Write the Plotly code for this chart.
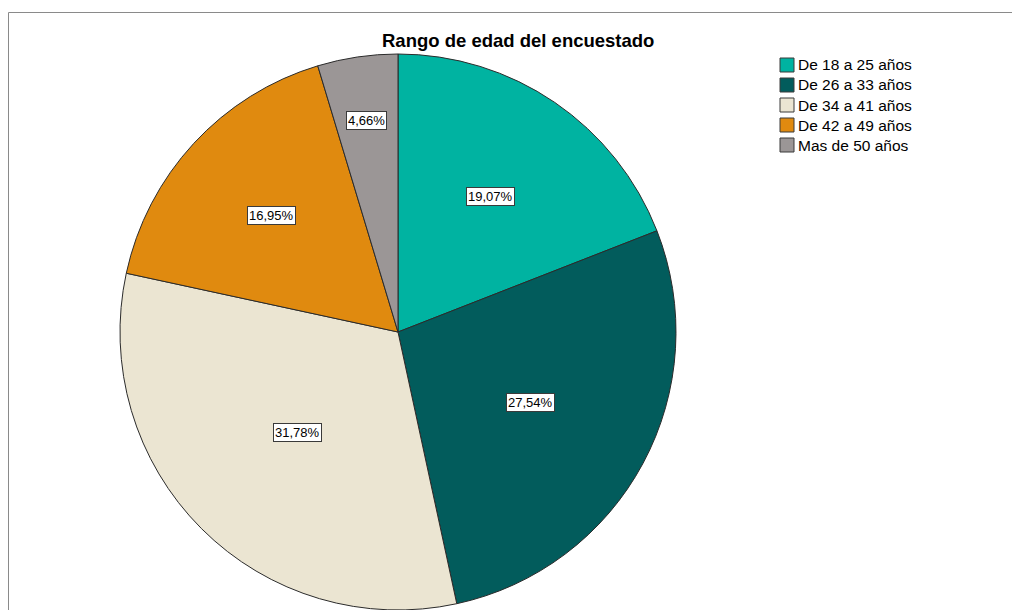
import math
import plotly.graph_objects as go

# ---- data ----
categories = ["De 18 a 25 años", "De 26 a 33 años", "De 34 a 41 años", "De 42 a 49 años", "Mas de 50 años"]
percentages = [19.07, 27.54, 31.78, 16.95, 4.66]
value_labels = ["19,07%", "27,54%", "31,78%", "16,95%", "4,66%"]
title_text = "Rango de edad del encuestado"

# ---- style ----
colors = ["#00B3A1", "#025C5C", "#EBE5D2", "#E08A0F", "#9B9696"]
W, H = 1020, 610
OFF = 8  # browser default body margin
cx_px, cy_px, r_px = 398 - OFF, 332 - OFF, 278
label_radius_frac = [0.59, 0.54, 0.51, 0.62, 0.77]
FONT = "Liberation Sans, Arial, sans-serif"


def px_x(x):
    return x / W


def px_y(y):
    return 1 - y / H


fig = go.Figure()
fig.add_trace(go.Pie(
    labels=categories,
    values=percentages,
    sort=False,
    direction="clockwise",
    rotation=0,
    marker=dict(colors=colors, line=dict(color="#2b2b2b", width=1)),
    textinfo="none",
    hoverinfo="label+percent",
    showlegend=False,
    domain=dict(x=[px_x(cx_px - r_px), px_x(cx_px + r_px)],
                y=[px_y(cy_px + r_px), px_y(cy_px - r_px)]),
))

annotations = []
shapes = []

# value labels in boxes, positioned from slice mid-angles
total = sum(percentages)
cum = 0.0
for v, lab, frac in zip(percentages, value_labels, label_radius_frac):
    mid = (cum + v / 2) / total * 2 * math.pi
    cum += v
    px = cx_px + r_px * frac * math.sin(mid)
    py = cy_px - r_px * frac * math.cos(mid)
    annotations.append(dict(
        x=px_x(px), y=px_y(py), xref="paper", yref="paper",
        xanchor="center", yanchor="middle",
        text=lab, showarrow=False,
        font=dict(family=FONT, size=13, color="#000000"),
        bgcolor="#FFFFFF", bordercolor="#3a3a3a", borderwidth=1, borderpad=1,
    ))

# title
annotations.append(dict(
    x=px_x(518 - OFF), y=px_y(41 - OFF), xref="paper", yref="paper",
    text="<b>" + title_text + "</b>", showarrow=False,
    font=dict(family=FONT, size=18.5, color="#000000"),
    xanchor="center", yanchor="middle",
))

# legend (swatches + labels)
leg_x0, leg_y0, sw, pitch = 780 - OFF, 65 - OFF, 14, 20
for i, (cat, col) in enumerate(zip(categories, colors)):
    yc = leg_y0 + i * pitch
    shapes.append(dict(
        type="rect", xref="paper", yref="paper",
        x0=px_x(leg_x0), x1=px_x(leg_x0 + sw),
        y0=px_y(yc + sw / 2), y1=px_y(yc - sw / 2),
        fillcolor=col, line=dict(color="#3a3a3a", width=1),
    ))
    annotations.append(dict(
        x=px_x(leg_x0 + sw + 2), y=px_y(yc), xref="paper", yref="paper",
        text=cat, showarrow=False, xanchor="left", yanchor="middle",
        font=dict(family=FONT, size=15.5, color="#000000"),
    ))

# chart frame
shapes.append(dict(
    type="rect", xref="paper", yref="paper",
    x0=px_x(8.5 - OFF), x1=1.02, y0=-0.02, y1=px_y(12.5 - OFF),
    line=dict(color="#8a8a8a", width=1), fillcolor="rgba(0,0,0,0)",
    layer="below",
))

fig.update_layout(
    width=W, height=H,
    margin=dict(l=0, r=0, t=0, b=0),
    paper_bgcolor="#FFFFFF",
    plot_bgcolor="#FFFFFF",
    annotations=annotations,
    shapes=shapes,
    showlegend=False,
)

fig.write_html("out.html")
